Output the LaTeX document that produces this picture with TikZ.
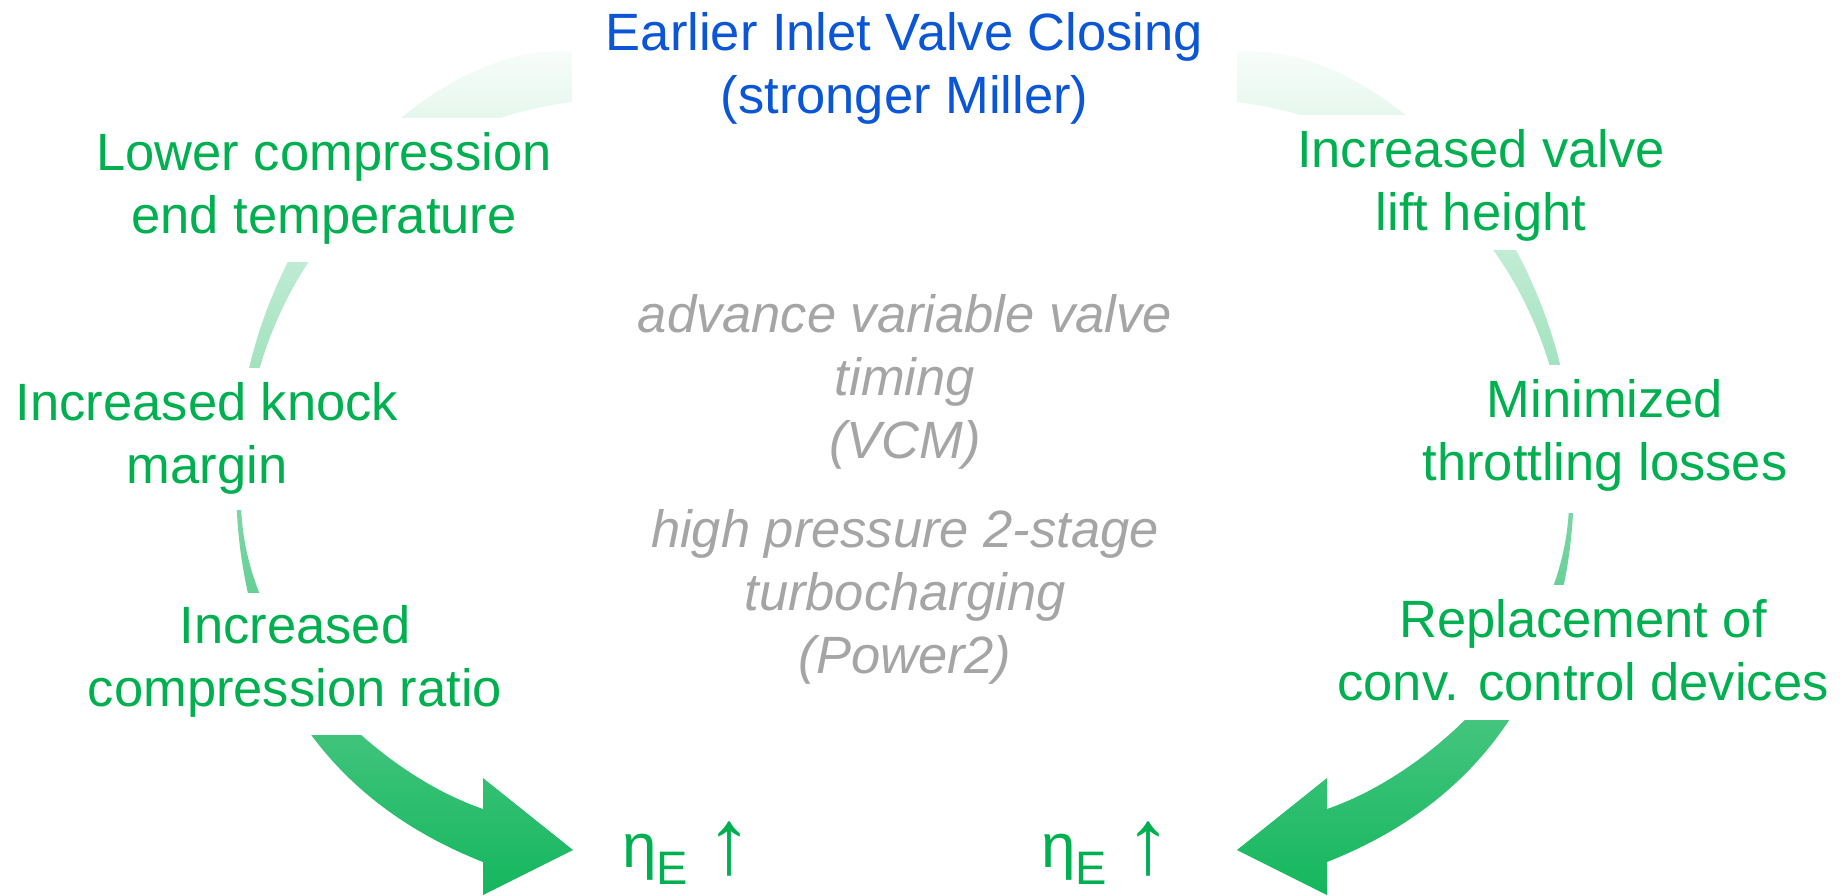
\documentclass[tikz,border=0pt]{standalone}
\usepackage{fontspec}
\setmainfont{Liberation Sans}
\definecolor{tgreen}{RGB}{0,176,80}
\definecolor{tblue}{RGB}{10,86,214}
\definecolor{tgray}{RGB}{165,165,165}
\newcommand{\mytop}[1]{\rule{0pt}{#1pt}}
\newcommand{\mybot}[1]{\rule[-#1pt]{0pt}{#1pt}}
\newcommand{\etaup}{η\raisebox{-17pt}{\fontsize{47}{47}\selectfont E}\hspace{18pt}\raisebox{-6pt}{\fontsize{92}{92}\selectfont ↑}}
\begin{document}
\begin{tikzpicture}[x=1pt,y=-1pt,
  txt/.style={font=\fontsize{52.5}{63}\selectfont, align=center, inner xsep=8pt, inner ysep=0pt, anchor=north},
  gtxt/.style={txt, text=tgreen, fill=white},
  itxt/.style={txt, text=tgray, font=\fontsize{52.5}{63}\selectfont\itshape},
  etatxt/.style={anchor=base west, text=tgreen, font=\fontsize{62}{62}\selectfont, inner sep=0pt},
  bigarrow/.style={top color=tgreen!3, middle color=tgreen!22, bottom color=tgreen!92, draw=none}
]
\useasboundingbox (0,0) rectangle (1847,895);

% curved arrows (left one, and its mirror image on the right)
\foreach \s/\o in {1/0, -1/1810}{
\begin{scope}[xshift=\o pt, xscale=\s]
\shade[bigarrow]
  (650,52) -- (560,51)
  .. controls (420,51) and (236,235) .. (236,480)
  .. controls (236,640) and (300,790) .. (483,862)
  -- (483,895) -- (573,850) -- (483,778) -- (483,809)
  .. controls (370,770) and (241,640) .. (241,500)
  .. controls (241,300) and (360,130) .. (572,102)
  -- (650,98) -- cycle;
\end{scope}
}

% title
\node (title) [txt, text=tblue, fill=white, minimum width=665pt] at (904.5,0)
  {\mytop{50}Earlier Inlet Valve Closing\\(stronger Miller)\mybot{17}};

% left column
\node (lowtemp) [gtxt] at (324,118) {\mytop{52}Lower compression\\end temperature\mybot{29}};
\node (knock) [gtxt] at (207,368) {\mytop{52}Increased knock\\margin\mybot{27}};
\node (cratio) [gtxt] at (295,593) {\mytop{50}Increased\\compression ratio\mybot{29}};

% right column
\node (lift) [gtxt] at (1481,115) {\mytop{52}Increased valve\\lift height\mybot{20}};
\node (throttle) [gtxt] at (1605,365) {\mytop{52}Minimized\\throttling losses\mybot{33}};
\node (replace) [gtxt] at (1583,585) {\mytop{52}Replacement of\\conv. control devices\mybot{20}};

% centre
\node (vcm) [itxt] at (905,280) {\mytop{52}advance variable valve\\timing\\(VCM)};
\node (power2) [itxt] at (905,495) {\mytop{52}high pressure 2-stage\\turbocharging\\(Power2)};

% results
\node (etaL) [etatxt] at (622,867) {\etaup};
\node (etaR) [etatxt] at (1041,867) {\etaup};
\end{tikzpicture}
\end{document}
